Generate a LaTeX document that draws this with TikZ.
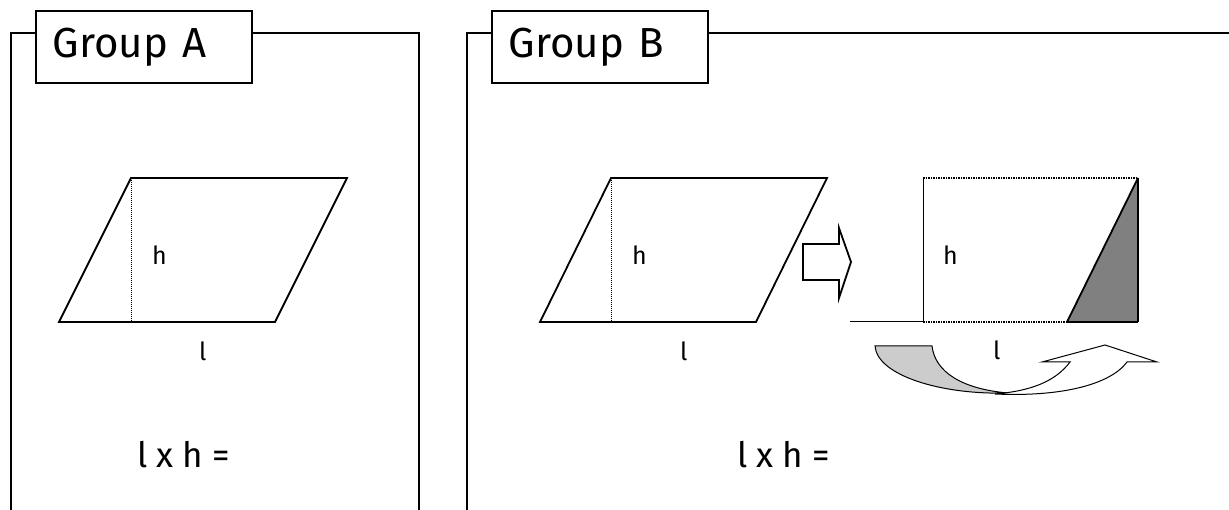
\documentclass[tikz,border=0pt]{standalone}
\usepackage{fontspec}
\setmainfont{Fira Sans}
\usepackage{tikz}
\usetikzlibrary{positioning,calc}

\definecolor{lightshade}{RGB}{204,204,204}
\definecolor{darkshade}{RGB}{128,128,128}

\begin{document}
\begin{tikzpicture}[
    x=1pt, y=-1pt,
    frame/.style={line width=1.8pt, black},
    titlebox/.style={draw, line width=1.8pt, fill=white, text width=182pt,
                     inner xsep=17pt, inner ysep=0pt, minimum height=72pt,
                     align=left, font=\fontsize{42}{44}\selectfont},
    figline/.style={line width=1.8pt, line join=miter},
    marker/.style={font=\fontsize{25}{27}\selectfont, inner sep=0pt},
    formula/.style={font=\fontsize{35}{37}\selectfont, inner sep=0pt},
]
\useasboundingbox (0,0) rectangle (1229,510);

% group A
\draw[frame] (11,510) -- (11,33) -- (419,33) -- (419,510);
\node[titlebox, anchor=north west] (titleA) at (35,10) {Group A};
\draw[figline] (59,322) -- (275,322) -- (347,178) -- (131,178) -- cycle;
\draw[densely dotted, line width=1pt] (131,178) -- (131,322);
\node[marker, anchor=base west] (hA) at (152,265) {h};
\node[marker, anchor=base west] (lA) at (199,361) {l};
\node[formula, anchor=base west] (eqA) at (137,467) {l x h =};

% group B
\draw[frame] (467,510) -- (467,33) -- (1229,33);
\node[titlebox, anchor=north west] (titleB) at (491,10) {Group B};
\draw[figline] (540,322) -- (756,322) -- (827,178) -- (611,178) -- cycle;
\draw[densely dotted, line width=1pt] (611,178) -- (611,322);
\node[marker, anchor=base west] (hB) at (632,265) {h};
\node[marker, anchor=base west] (lB) at (680,361) {l};
\node[formula, anchor=base west] (eqB) at (737,467) {l x h =};

% block arrow
\draw[figline] (803,244) -- (839,244) -- (839,228) -- (851,262) -- (839,298)
    -- (839,280) -- (803,280) -- cycle;

% rectangle with moved triangle
\fill[darkshade] (1067,322) -- (1138,178) -- (1138,322) -- cycle;
\draw[figline] (1067,322) -- (1138,178);
\draw[line width=1pt] (923,178) -- (923,322);
\draw[line width=2.2pt] (1138,178) -- (1138,322);
\draw[densely dotted, line width=1.5pt] (923,178) -- (1138,178);
\draw[densely dotted, line width=1.5pt] (923,322) -- (1067,322);
\draw[figline] (1067,322) -- (1138,322);
\draw[line width=1pt] (850,322) -- (923,322);
\node[marker, anchor=base west] (hR) at (943,265) {h};
\node[marker, anchor=base west] (lR) at (993,360) {l};

% curved arrow
\draw[line width=1pt, fill=lightshade] (875,346) -- (932,346)
    .. controls (935,372) and (962,389) .. (1008,393)
    .. controls (940,395) and (877,375) .. (875,346) -- cycle;
\draw[line width=1pt, fill=white] (995,394) .. controls (1060,397) and (1110,385) .. (1127,362)
    -- (1157,362) -- (1105,345) -- (1042,362) -- (1070,362)
    .. controls (1055,382) and (1030,391) .. (995,394);
\end{tikzpicture}
\end{document}
